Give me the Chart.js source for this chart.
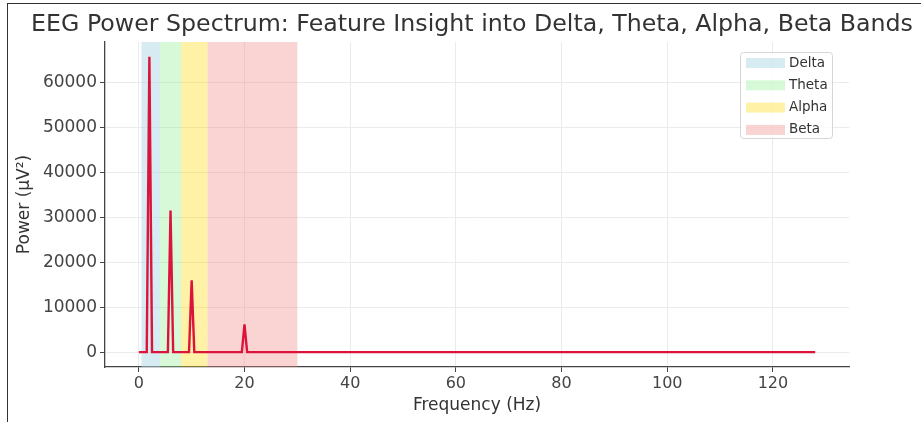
<!DOCTYPE html>
<html>
<head>
<meta charset="utf-8">
<script src="https://cdn.jsdelivr.net/npm/chart.js@4.4.1/dist/chart.umd.min.js"></script>
<style>
  html, body { margin: 0; padding: 0; background: #fff; }
  #wrap { position: relative; width: 921px; height: 422px; overflow: hidden; }
  #frame { position: absolute; left: 7px; top: 3px; width: 930px; height: 440px;
           border-left: 1.5px solid #333; border-top: 1.5px solid #333; pointer-events: none; }
</style>
</head>
<body>
<div id="wrap">
  <canvas id="myChart" width="921" height="422"></canvas>
  <div id="frame"></div>
</div>
<script>
// Spectrum (Hz / µV²)
const freqHz = [0, 1.5, 2, 2.5, 5.5, 6, 6.5, 9.5, 10, 10.5, 19.5, 20, 20.5, 128];
const powerUV2 = [0, 0, 65700, 0, 0, 31500, 0, 0, 16000, 0, 0, 6200, 0, 0];

// Frequency bands
const bandNames = ['Delta', 'Theta', 'Alpha', 'Beta'];
const bandStart = [0.5, 4, 8, 13];
const bandEnd = [4, 8, 13, 30];
const bandColors = ['rgba(173, 216, 230, 0.5)', 'rgba(144, 238, 144, 0.35)', 'rgba(255, 215, 0, 0.35)', 'rgba(240, 128, 128, 0.35)'];

// Ticks
const xTicks = [0, 20, 40, 60, 80, 100, 120];
const yTicks = [0, 10000, 20000, 30000, 40000, 50000, 60000];

const titleText = 'EEG Power Spectrum: Feature Insight into Delta, Theta, Alpha, Beta Bands';
const FONT = "'DejaVu Sans', sans-serif";

const bandPlugin = {
    id: 'bands',
    beforeDatasetsDraw(chart) {
        const { ctx, chartArea, scales } = chart;
        ctx.save();
        bandNames.forEach((name, i) => {
            const x0 = scales.x.getPixelForValue(bandStart[i]);
            const x1 = scales.x.getPixelForValue(bandEnd[i]);
            ctx.fillStyle = bandColors[i];
            ctx.fillRect(x0, chartArea.top, x1 - x0, chartArea.bottom - chartArea.top);
        });
        ctx.restore();
    },
    afterDraw(chart) {
        const ctx = chart.ctx;
        ctx.save();
        // title
        ctx.fillStyle = '#333';
        ctx.font = '23.7px ' + FONT;
        ctx.textAlign = 'center';
        ctx.textBaseline = 'middle';
        ctx.fillText(titleText, 472, 25);

        // legend box
        const bx = 740, by = 52, bw = 92, bh = 86;
        ctx.fillStyle = 'rgba(255,255,255,0.8)';
        ctx.strokeStyle = '#d6d6d6';
        ctx.lineWidth = 1;
        ctx.beginPath();
        ctx.roundRect(bx + 0.5, by + 0.5, bw, bh, 3);
        ctx.fill();
        ctx.stroke();
        ctx.font = '13.5px ' + FONT;
        ctx.textAlign = 'left';
        bandNames.forEach((name, i) => {
            const cy = 63 + i * 22.3;
            ctx.fillStyle = bandColors[i];
            ctx.fillRect(746, cy - 5, 39, 10);
            ctx.fillStyle = '#333';
            ctx.fillText(name, 789, cy);
        });
        ctx.restore();
    }
};

new Chart(document.getElementById('myChart'), {
    type: 'line',
    data: {
        datasets: [{
            label: 'Power',
            data: freqHz.map((f, i) => ({ x: f, y: powerUV2[i] })),
            borderColor: '#DC143C',
            borderWidth: 2.4,
            pointRadius: 0,
            tension: 0,
            fill: false
        }]
    },
    options: {
        responsive: false,
        devicePixelRatio: 1,
        animation: false,
        layout: { padding: { top: 42, right: 72, left: 0, bottom: 0 } },
        plugins: {
            legend: { display: false },
            title: { display: false },
            tooltip: { enabled: false }
        },
        scales: {
            x: {
                type: 'linear',
                min: -6.4,
                max: 134.4,
                afterBuildTicks: (scale) => { scale.ticks = xTicks.map(v => ({ value: v })); },
                afterFit: (scale) => { scale.height = 55; },
                grid: { color: '#ebebeb', lineWidth: 1, tickColor: '#444', tickLength: 5 },
                border: { color: '#444', width: 1.3 },
                ticks: { color: '#444', font: { family: FONT, size: 16 }, padding: 2, maxRotation: 0 },
                title: { display: true, text: 'Frequency (Hz)', color: '#333', font: { family: FONT, size: 17 }, padding: { top: 0, bottom: 6 } }
            },
            y: {
                min: -3300,
                max: 69000,
                afterBuildTicks: (scale) => { scale.ticks = yTicks.map(v => ({ value: v })); },
                afterFit: (scale) => { scale.width = 105; },
                grid: { color: '#ebebeb', lineWidth: 1, tickColor: '#444', tickLength: 5 },
                border: { color: '#444', width: 1.3 },
                ticks: { color: '#444', font: { family: FONT, size: 17 }, padding: 3, callback: (v) => String(v) },
                title: { display: true, text: 'Power (µV²)', color: '#333', font: { family: FONT, size: 17 }, padding: { top: 14, bottom: 4 } }
            }
        }
    },
    plugins: [bandPlugin]
});
</script>
</body>
</html>
